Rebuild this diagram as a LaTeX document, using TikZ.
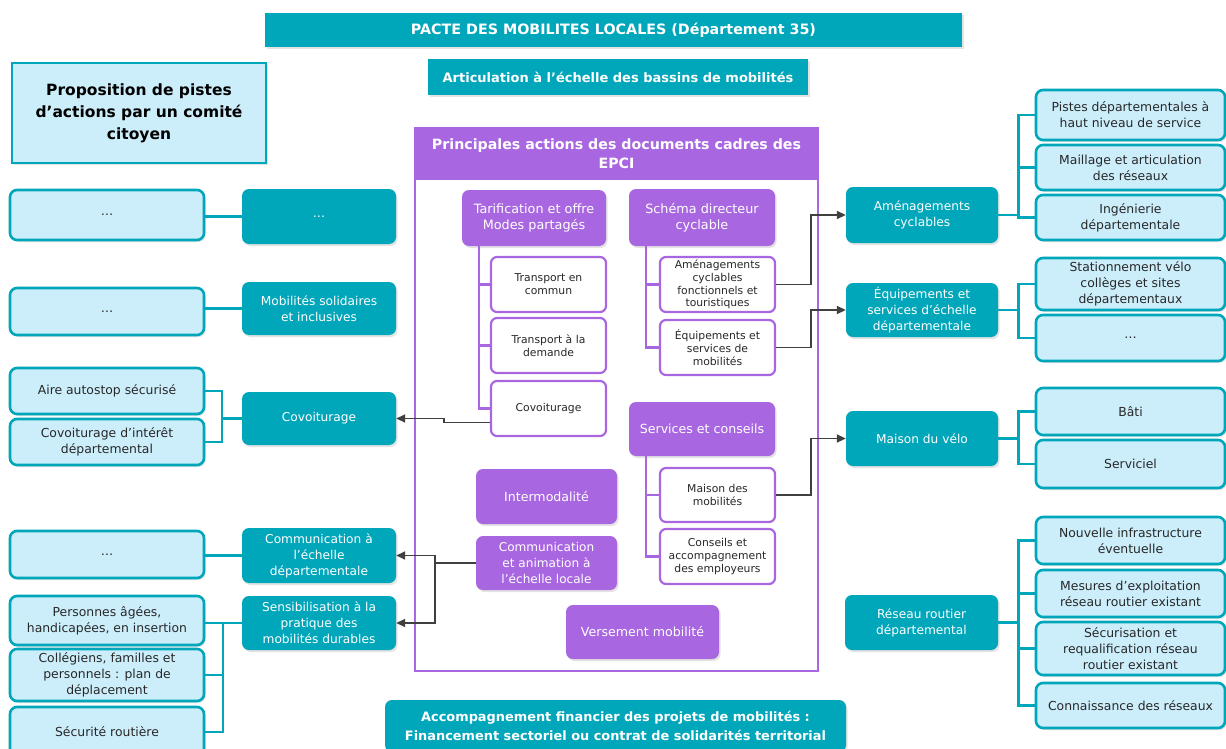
\documentclass[tikz,border=0pt]{standalone}
\usepackage{fontspec}
\setmainfont{DejaVu Sans}
\usetikzlibrary{arrows.meta,shadows,calc}
\definecolor{tealA}{RGB}{0,166,186}
\definecolor{lightA}{RGB}{204,238,251}
\definecolor{purpA}{RGB}{168,102,224}
\definecolor{arrG}{RGB}{64,64,64}
\definecolor{txt}{RGB}{40,40,40}
\newcommand\fsz[2]{\fontsize{#1}{#2}\selectfont}
\newcommand\bxnode[7]{\pgfmathsetmacro\bxw{#5-#3}\pgfmathsetmacro\bxh{#6-#4}\pgfmathsetmacro\bxx{(#3+#5)/2}\pgfmathsetmacro\bxy{(#4+#6)/2}\node[#2,minimum width=\bxw pt,minimum height=\bxh pt] (#1) at (\bxx,\bxy) {#7};}
\begin{document}
\begin{tikzpicture}[x=1pt,y=-1pt,
 shadowed/.style={drop shadow={shadow xshift=1.5pt,shadow yshift=-2pt,opacity=0.22}},
 tealbox/.style={rounded corners=7pt,fill=tealA,text=white,align=center,inner sep=1pt,shadowed,font=\fsz{12.2}{16}},
 lightbox/.style={rounded corners=7pt,fill=lightA,draw=tealA,line width=2.6pt,text=txt,align=center,inner sep=1pt,shadowed,font=\fsz{12.4}{16}},
 phead/.style={rounded corners=7pt,fill=purpA,text=white,align=center,inner sep=1pt,shadowed,font=\fsz{12.6}{16}},
 pchild/.style={rounded corners=6pt,fill=white,draw=purpA,line width=2.2pt,text=txt,align=center,inner sep=1pt,font=\fsz{10.8}{12.8}},
 tline/.style={draw=tealA,line width=2.6pt},
 pline/.style={draw=purpA,line width=2.6pt},
 arr/.style={draw=arrG,line width=1.8pt,-{Triangle[length=9pt,width=8pt]}}]
\useasboundingbox (0,0) rectangle (1226,749);
\fill[white] (0,0) rectangle (1226,749);
% top
\bxnode{title}{fill=tealA,text=white,shadowed,font=\fsz{14.3}{18}\bfseries}{265}{13}{962}{47}{PACTE DES MOBILITES LOCALES (Département 35)}
\bxnode{sub}{fill=tealA,text=white,shadowed,font=\fsz{13}{16}\bfseries}{428}{59}{808}{95}{Articulation à l’échelle des bassins de mobilités}
\bxnode{prop}{fill=lightA,draw=tealA,line width=2.6pt,shadowed,align=center,font=\fsz{15.5}{22}\bfseries}{12}{63}{266}{163}{Proposition de pistes\\d’actions par un comité\\citoyen}
% EPCI frame
\bxnode{epcih}{fill=purpA,text=white,align=center,font=\fsz{14.2}{19}\bfseries}{415}{128}{818}{180}{Principales actions des documents cadres des\\EPCI}
\bxnode{epci}{draw=purpA,line width=1.5pt}{415}{128}{818}{671}{}
% inner
\bxnode{tarif}{phead,font=\fsz{12.8}{16}}{462}{190}{606}{246}{Tarification et offre\\Modes partagés}
\bxnode{schema}{phead,font=\fsz{12.8}{16}}{629}{189}{775}{246}{Schéma directeur\\cyclable}
\bxnode{servc}{phead}{629}{402}{775}{456}{Services et conseils}
\bxnode{inter}{phead}{476}{469}{617}{524}{Intermodalité}
\bxnode{icomm}{phead,font=\fsz{12.1}{16}}{476}{536}{617}{590}{Communication\\et animation à\\l’échelle locale}
\bxnode{vers}{phead}{566}{605}{719}{659}{Versement mobilité}
\bxnode{tc}{pchild}{491}{257}{606}{312}{Transport en\\commun}
\bxnode{tad}{pchild}{491}{318}{606}{373}{Transport à la\\demande}
\bxnode{icov}{pchild}{491}{381}{606}{436}{Covoiturage}
\bxnode{iamen}{pchild}{660}{257}{775}{312}{Aménagements\\cyclables\\fonctionnels et\\touristiques}
\bxnode{iequip}{pchild}{660}{320}{775}{375}{Équipements et\\services de\\mobilités}
\bxnode{imais}{pchild}{660}{468}{775}{522}{Maison des\\mobilités}
\bxnode{icons}{pchild}{660}{529}{775}{584}{Conseils et\\accompagnement\\des employeurs}
\draw[pline] ($(tarif.south west)+(17,0)$) |- (tc.west);
\draw[pline] ($(tarif.south west)+(17,0)$) |- (tad.west);
\draw[pline] ($(tarif.south west)+(17,0)$) |- (icov.west);
\draw[pline] ($(schema.south west)+(17,0)$) |- (iamen.west);
\draw[pline] ($(schema.south west)+(17,0)$) |- (iequip.west);
\draw[pline] ($(servc.south west)+(17,0)$) |- (imais.west);
\draw[pline] ($(servc.south west)+(17,0)$) |- (icons.west);
% left side
\bxnode{l1}{lightbox}{10}{190}{204}{240}{…}
\bxnode{t1}{tealbox}{242}{189}{396}{244}{…}
\bxnode{l2}{lightbox}{10}{288}{204}{335}{…}
\bxnode{t2}{tealbox}{242}{282}{396}{335}{Mobilités solidaires\\et inclusives}
\bxnode{aire}{lightbox}{10}{368}{204}{414}{Aire autostop sécurisé}
\bxnode{cvint}{lightbox}{10}{419}{204}{465}{Covoiturage d’intérêt\\départemental}
\bxnode{lcov}{tealbox}{242}{392}{396}{445}{Covoiturage}
\bxnode{l5}{lightbox}{10}{531}{204}{578}{…}
\bxnode{lcomm}{tealbox}{242}{528}{396}{583}{Communication à\\l’échelle\\départementale}
\bxnode{pers}{lightbox}{10}{596}{204}{645}{Personnes âgées,\\handicapées, en insertion}
\bxnode{coll}{lightbox}{10}{649}{204}{701}{Collégiens, familles et\\personnels : plan de\\déplacement}
\bxnode{secu}{lightbox}{10}{707}{204}{757}{Sécurité routière}
\bxnode{lsens}{tealbox}{242}{596}{396}{650}{Sensibilisation à la\\pratique des\\mobilités durables}
\draw[tline] (t1.west) -- (t1.west -| l1.east);
\draw[tline] (t2.west) -- (t2.west -| l2.east);
\draw[tline] (lcov.west) -- ++(-20,0) |- (aire.east);
\draw[tline] (lcov.west) -- ++(-20,0) |- (cvint.east);
\draw[tline] (lcomm.west) -- (lcomm.west -| l5.east);
\draw[tline] (lsens.west) -- (lsens.west -| pers.east);
\draw[tline] (lsens.west) -- ++(-19,0) |- (coll.east);
\draw[tline] (lsens.west) -- ++(-19,0) |- (secu.east);
% right side
\bxnode{ramen}{tealbox}{846}{187}{998}{243}{Aménagements\\cyclables}
\bxnode{requip}{tealbox}{846}{283}{998}{337}{Équipements et\\services d’échelle\\départementale}
\bxnode{rmais}{tealbox}{846}{411}{998}{466}{Maison du vélo}
\bxnode{rres}{tealbox}{845}{595}{998}{650}{Réseau routier\\départemental}
\bxnode{pistes}{lightbox}{1036}{90}{1225}{140}{Pistes départementales à\\haut niveau de service}
\bxnode{maill}{lightbox}{1036}{145}{1225}{190}{Maillage et articulation\\des réseaux}
\bxnode{inge}{lightbox}{1036}{195}{1225}{240}{Ingénierie\\départementale}
\bxnode{stat}{lightbox}{1036}{258}{1225}{310}{Stationnement vélo\\collèges et sites\\départementaux}
\bxnode{rdots}{lightbox}{1036}{315}{1225}{361}{…}
\bxnode{bati}{lightbox}{1036}{388}{1225}{435}{Bâti}
\bxnode{serv}{lightbox}{1036}{440}{1225}{488}{Serviciel}
\bxnode{nouv}{lightbox}{1036}{517}{1225}{564}{Nouvelle infrastructure\\éventuelle}
\bxnode{mes}{lightbox}{1036}{570}{1225}{617}{Mesures d’exploitation\\réseau routier existant}
\bxnode{secur}{lightbox}{1036}{622}{1225}{675}{Sécurisation et\\requalification réseau\\routier existant}
\bxnode{conn}{lightbox}{1036}{683}{1225}{728}{Connaissance des réseaux}
\foreach \p/\c in {ramen/pistes,ramen/maill,ramen/inge,requip/stat,requip/rdots,rmais/bati,rmais/serv,rres/nouv,rres/mes,rres/secur,rres/conn}
  \draw[tline] (\p.east) -- ++(20,0) |- (\c.west);
% arrows
\draw[arr] ($(icov.west)+(0,14)$) -- ++(-46,0) |- (lcov.east);
\draw[arr] (icomm.west) -- ++(-41,0) |- (lcomm.east);
\draw[arr] (icomm.west) -- ++(-41,0) |- (lsens.east);
\draw[arr] (iamen.east) -- ++(35,0) |- (ramen.west);
\draw[arr] (iequip.east) -- ++(35,0) |- (requip.west);
\draw[arr] (imais.east) -- ++(35,0) |- (rmais.west);
% bottom
\bxnode{fin}{tealbox,font=\fsz{12.9}{19.5}\bfseries}{385}{700}{846}{752}{Accompagnement financier des projets de mobilités :\\Financement sectoriel ou contrat de solidarités territorial}
\end{tikzpicture}
\end{document}
